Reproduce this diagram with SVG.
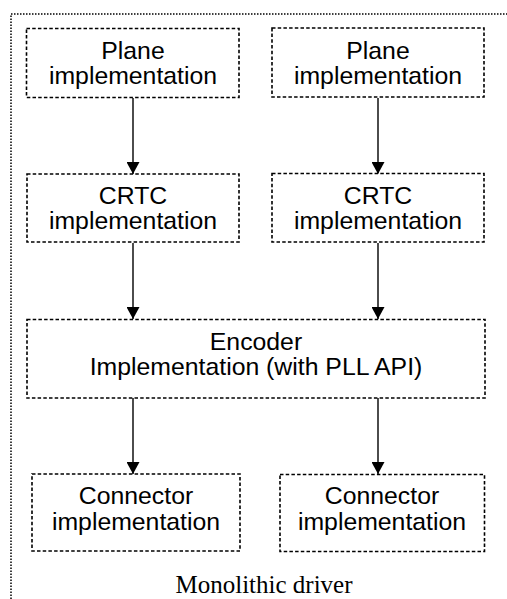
<svg xmlns="http://www.w3.org/2000/svg" width="507" height="599" viewBox="0 0 507 599">
<style>
.box{fill:#fff;stroke:#000;stroke-width:1.6;stroke-dasharray:3.5 2.2}
.frame{fill:none;stroke:#000;stroke-width:1.5;stroke-dasharray:1.5 1.5}
.t{font-family:"Liberation Sans",Arial,sans-serif;font-size:24.8px;fill:#000;text-anchor:middle}
.cap{font-family:"Liberation Serif","Times New Roman",serif;font-size:25px;fill:#000;text-anchor:middle}
.edge{stroke:#000;stroke-width:1.4;fill:none;marker-end:url(#ah)}
</style>
<defs>
<marker id="ah" markerWidth="13" markerHeight="13" viewBox="0 0 12 13" refX="12" refY="6.5" orient="auto" markerUnits="userSpaceOnUse">
<path d="M0,0 L12,6.5 L0,13 Z" fill="#000"/>
</marker>
</defs>
<rect width="507" height="599" fill="#fff"/>
<g id="frame">
<path class="frame" d="M11,599 L11,14 L507,14"/>
<text class="cap" x="264" y="593">Monolithic driver</text>
</g>
<g id="connectors">
<line class="edge" x1="133" y1="98" x2="133" y2="174"/>
<line class="edge" x1="378" y1="98" x2="378" y2="174"/>
<line class="edge" x1="133" y1="243" x2="133" y2="319"/>
<line class="edge" x1="378" y1="243" x2="378" y2="319"/>
<line class="edge" x1="133" y1="398" x2="133" y2="474"/>
<line class="edge" x1="378" y1="398" x2="378" y2="474"/>
</g>
<g id="plane1">
<rect class="box" x="26.5" y="28.5" width="212.5" height="69"/>
<text class="t" x="133" y="59">Plane</text>
<text class="t" x="133" y="84">implementation</text>
</g>
<g id="plane2">
<rect class="box" x="272" y="28" width="212" height="69"/>
<text class="t" x="378" y="59">Plane</text>
<text class="t" x="378" y="84">implementation</text>
</g>
<g id="crtc1">
<rect class="box" x="27" y="174" width="212" height="68"/>
<text class="t" x="133" y="204">CRTC</text>
<text class="t" x="133" y="229">implementation</text>
</g>
<g id="crtc2">
<rect class="box" x="272" y="173.5" width="212" height="68.5"/>
<text class="t" x="378" y="204">CRTC</text>
<text class="t" x="378" y="229">implementation</text>
</g>
<g id="encoder">
<rect class="box" x="27" y="319.5" width="458" height="78.5"/>
<text class="t" x="256" y="349.5">Encoder</text>
<text class="t" x="256" y="374.5">Implementation (with PLL API)</text>
</g>
<g id="connector1">
<rect class="box" x="32" y="474" width="208" height="77"/>
<text class="t" x="136" y="504">Connector</text>
<text class="t" x="136" y="530">implementation</text>
</g>
<g id="connector2">
<rect class="box" x="280" y="474.5" width="204.5" height="77"/>
<text class="t" x="382" y="504">Connector</text>
<text class="t" x="382" y="530">implementation</text>
</g>
</svg>
